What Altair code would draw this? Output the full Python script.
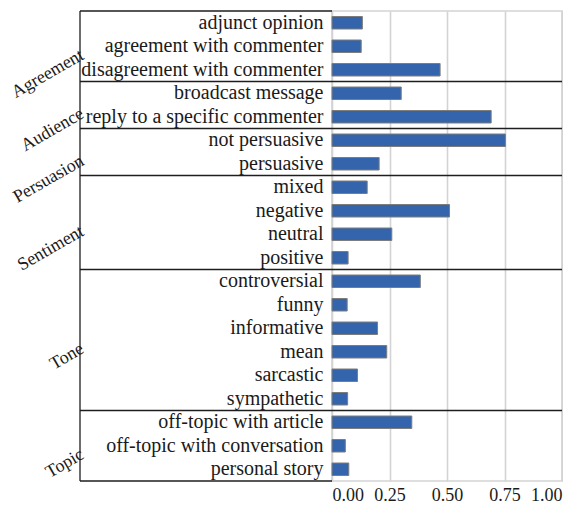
import altair as alt
import pandas as pd

groups = (["Agreement"] * 3 + ["Audience"] * 2 + ["Persuasion"] * 2 +
          ["Sentiment"] * 4 + ["Tone"] * 6 + ["Topic"] * 3)
labels = [
    "adjunct opinion", "agreement with commenter", "disagreement with commenter",
    "broadcast message", "reply to a specific commenter",
    "not persuasive", "persuasive",
    "mixed", "negative", "neutral", "positive",
    "controversial", "funny", "informative", "mean", "sarcastic", "sympathetic",
    "off-topic with article", "off-topic with conversation", "personal story",
]
values = [
    0.132, 0.127, 0.470,
    0.301, 0.692,
    0.754, 0.205,
    0.153, 0.511, 0.260, 0.070,
    0.384, 0.066, 0.198, 0.238, 0.111, 0.068,
    0.347, 0.058, 0.073,
]
tick_values = [0.0, 0.25, 0.5, 0.75, 1.0]

# helper columns: group index, position of each row inside its group
order = []
gi, pos, size = [], [], []
for g in groups:
    if g not in order:
        order.append(g)
for i, g in enumerate(groups):
    gi.append(order.index(g))
    pos.append(groups[:i].count(g))
    size.append(groups.count(g))
df = pd.DataFrame({"group": groups, "label": labels, "value": values,
                   "gi": gi, "pos": pos, "n": size})

FONT = "Liberation Serif"
LEFT = -252
LINE = "#1e1e1e"
TXT = "#1a1a1a"

base = alt.Chart(df)

bars = base.mark_bar(size=12.5, color="#3465ac", stroke="#7d7d7d", strokeWidth=1).encode(
    x=alt.X("value:Q", title=None, scale=alt.Scale(domain=[0, 1]),
            axis=alt.Axis(values=tick_values, format=".2f", title=None, ticks=False,
                          domain=False, labelFontSize=18, labelPadding=5,
                          labelColor=TXT, labelFont=FONT, grid=True,
                          gridColor="#d3d3d3", gridWidth=1.6)),
    y=alt.Y("label:N", title=None,
            scale=alt.Scale(domain=labels, paddingInner=0, paddingOuter=0),
            axis=alt.Axis(title=None, ticks=False, domain=False, grid=False,
                          labelFontSize=20, labelPadding=9, labelColor=TXT,
                          labelFont=FONT, labelLimit=400)),
)

separators = base.mark_rule(color=LINE, strokeWidth=1.3).encode(
    x=alt.value(LEFT), x2=alt.value("width"),
    y=alt.Y("label:N", title=None, bandPosition=0),
).transform_filter("datum.pos == 0 && datum.gi > 0")

top_left = base.mark_rule(color=LINE, strokeWidth=1.3).encode(
    x=alt.value(LEFT), x2=alt.value(0), y=alt.value(0)
).transform_filter("datum.pos == 0 && datum.gi == 0")

bottom_left = base.mark_rule(color=LINE, strokeWidth=1.3).encode(
    x=alt.value(LEFT), x2=alt.value(0), y=alt.value("height")
).transform_filter("datum.pos == 0 && datum.gi == 0")

vertical = base.mark_rule(color=LINE, strokeWidth=1.3).encode(
    x=alt.value(LEFT), y=alt.value(0), y2=alt.value("height")
).transform_filter("datum.pos == 0 && datum.gi == 0")

text_style = dict(angle=330, align="right", baseline="top", font=FONT,
                  fontSize=18, color=TXT)

group_even = base.mark_text(**text_style).encode(
    x=alt.value(LEFT - 2),
    y=alt.Y("label:N", title=None, bandPosition=0),
    text="group:N",
).transform_filter("datum.n % 2 == 0 && datum.pos == floor(datum.n / 2)")

group_odd = base.mark_text(**text_style).encode(
    x=alt.value(LEFT - 2),
    y=alt.Y("label:N", title=None, bandPosition=0.5),
    text="group:N",
).transform_filter("datum.n % 2 == 1 && datum.pos == floor(datum.n / 2)")

chart = alt.layer(
    bars, separators, top_left, bottom_left, vertical, group_even, group_odd
).properties(
    width=230, height=470,
    padding={"left": 0, "top": 2, "right": 0, "bottom": 0},
).configure_view(stroke="#d3d3d3", strokeWidth=1.6)

chart.save("out.html", embed_options={"renderer": "svg", "actions": False})
